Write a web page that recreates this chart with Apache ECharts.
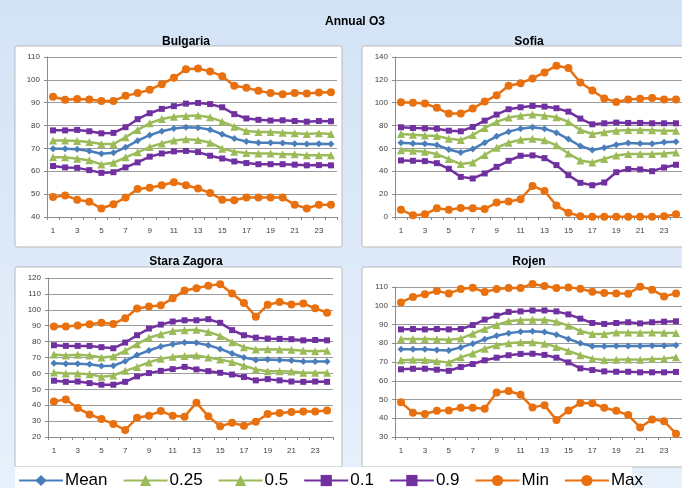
<!DOCTYPE html>
<html>
<head>
<meta charset="utf-8">
<script src="https://cdn.jsdelivr.net/npm/echarts@6/dist/echarts.min.js"></script>
<style>
  html, body { margin: 0; padding: 0; }
  #chart { width: 682px; height: 488px; }
</style>
</head>
<body>
<div id="chart"></div>
<script>
const hours = ['1','2','3','4','5','6','7','8','9','10','11','12','13','14','15','16','17','18','19','20','21','22','23','24'];
const seriesNames = ['Mean', '0.25', '0.5', '0.1', '0.9', 'Min', 'Max'];
const panelNames = ['Bulgaria', 'Sofia', 'Stara Zagora', 'Rojen'];

// Bulgaria
const bgMean = [69.9,69.9,69.6,68.9,67.7,68.1,70.5,73.4,75.8,77.5,78.7,79.3,79.1,78.2,76.2,74.3,73.0,72.5,72.5,72.4,72.1,71.9,72.1,71.9];
const bgQ25  = [66.1,66.1,65.5,64.8,63.0,63.7,66.1,68.3,70.6,72.2,73.5,74.0,73.7,72.5,69.9,68.6,68.0,67.8,67.8,67.5,67.4,67.0,67.0,67.0];
const bgQ50  = [73.5,73.5,73.3,72.8,71.9,71.9,74.9,78.1,81.0,82.9,83.9,84.2,84.4,83.6,81.7,79.5,77.6,77.2,77.2,76.9,76.6,76.3,76.6,76.3];
const bgQ10  = [62.3,61.7,61.5,60.5,59.3,59.6,61.7,63.9,66.4,67.8,68.7,68.9,68.4,66.8,65.6,64.3,63.6,63.1,63.1,63.1,62.9,62.6,62.7,62.6];
const bgQ90  = [77.9,77.9,78.1,77.5,76.6,76.8,79.3,82.8,85.4,87.3,88.5,89.6,89.9,89.4,88.0,85.0,83.1,82.5,82.2,82.3,82.0,81.7,82.0,81.9];
const bgMin  = [48.7,49.4,47.6,46.7,43.7,45.6,48.5,52.2,52.8,53.9,55.2,53.9,52.5,50.5,47.6,47.3,48.5,48.5,48.5,48.5,45.4,43.7,45.4,45.4];
const bgMax  = [92.6,91.3,91.6,91.4,90.8,90.8,93.0,94.2,95.7,98.1,100.9,104.6,105.0,103.7,101.6,97.4,96.5,95.2,94.2,93.7,94.2,94.0,94.5,94.6];

// Sofia
const sfMean = [65.0,64.4,64.1,63.0,59.1,56.5,59.4,65.0,70.6,74.7,77.3,78.5,77.3,73.8,68.2,62.1,58.6,60.6,63.3,64.7,64.4,64.1,65.3,65.9];
const sfQ25  = [58.3,58.0,57.1,55.1,50.7,46.3,47.7,54.2,60.6,65.0,67.6,68.5,67.1,62.7,55.6,49.5,47.7,50.7,53.9,55.1,55.1,55.1,55.6,56.5];
const sfQ50  = [72.6,72.0,71.4,70.9,68.5,67.3,71.7,77.9,83.2,87.0,88.7,89.6,88.7,87.3,83.2,76.1,72.6,74.1,75.5,76.1,76.1,75.8,75.5,75.5];
const sfQ10  = [49.5,49.2,48.9,47.1,42.2,35.1,33.7,38.1,43.9,49.2,53.6,53.9,51.5,45.4,36.6,29.9,27.8,30.2,39.2,41.9,41.6,40.1,43.3,45.7];
const sfQ90  = [78.5,77.9,77.6,77.3,75.5,75.0,78.8,84.3,89.6,94.3,96.0,97.2,96.6,95.2,92.2,86.1,81.1,82.0,82.6,82.3,82.3,82.0,82.0,82.0];
const sfMin  = [6.4,1.5,2.3,7.6,6.4,7.9,7.6,7.0,12.6,13.5,15.5,27.2,22.8,10.0,3.8,0.6,0.3,0.3,0.3,0.3,0.3,0.3,0.6,2.3];
const sfMax  = [100.4,99.9,99.3,95.5,90.5,90.5,94.9,101.0,106.6,114.8,117.1,121.2,126.5,132.4,130.3,117.7,110.7,103.7,100.7,102.8,103.4,104.2,102.8,102.8];

// Stara Zagora
const szMean = [66.4,66.0,66.0,65.8,64.6,64.8,67.7,71.5,74.4,76.9,78.4,79.4,79.2,77.7,75.4,72.5,70.0,68.5,68.7,68.5,68.1,67.5,67.5,67.5];
const szQ25  = [60.6,60.0,60.0,59.5,57.9,58.7,61.6,64.1,66.9,69.2,70.4,71.0,71.3,70.0,68.7,67.1,64.8,62.5,61.4,61.4,61.2,60.4,60.4,60.4];
const szQ50  = [71.9,71.3,71.7,71.3,70.0,70.6,74.2,78.4,82.4,84.7,86.6,87.2,87.4,86.1,83.6,79.6,76.5,75.0,75.2,75.0,74.8,74.2,74.0,74.2];
const szQ10  = [55.4,54.7,54.9,53.9,52.9,52.9,54.7,58.1,60.2,61.6,62.7,64.1,62.5,61.4,60.4,59.3,57.7,55.6,56.4,55.6,54.9,54.7,54.9,54.7];
const szQ90  = [77.7,77.3,77.3,77.3,76.5,75.8,79.4,84.0,88.2,90.7,92.6,93.4,93.4,94.1,91.8,87.2,84.0,82.5,81.9,81.7,81.5,80.8,81.0,80.8];
const szMin  = [42.4,43.6,38.2,34.2,31.3,28.2,24.4,32.1,33.4,36.3,33.4,32.8,41.6,33.0,26.7,29.0,27.1,29.6,34.4,35.1,35.7,36.1,36.1,36.7];
const szMax  = [89.5,89.5,90.1,90.9,91.8,91.1,94.7,100.8,102.0,102.8,107.2,112.1,113.5,115.2,116.0,110.2,104.3,95.7,103.1,104.9,103.3,103.9,101.0,98.2];

// Rojen
const rjMean = [76.8,76.8,76.8,76.4,76.1,77.8,79.8,82.1,84.0,85.3,86.2,86.4,86.0,84.6,82.3,80.0,78.4,78.4,78.5,78.5,78.5,78.7,78.7,78.9];
const rjQ25  = [70.9,71.2,71.1,70.4,69.8,72.5,74.6,77.1,78.9,80.0,80.5,80.5,79.8,78.0,75.9,73.6,71.8,71.1,71.2,71.4,71.2,71.6,71.8,72.5];
const rjQ50  = [82.3,82.3,82.3,82.1,81.9,82.5,85.1,87.6,89.7,91.7,92.4,92.6,92.6,91.5,89.4,86.5,84.9,84.9,85.8,85.8,85.6,85.8,85.6,85.5];
const rjQ10  = [66.1,66.4,66.4,65.9,65.3,67.3,68.9,70.9,72.3,73.6,74.3,74.4,73.8,72.3,69.8,66.6,65.7,65.0,64.8,64.8,64.5,64.5,64.5,64.7];
const rjQ90  = [87.4,87.6,87.4,87.6,87.4,87.6,89.7,92.6,94.7,96.7,97.0,97.5,97.5,97.0,95.4,93.1,90.8,90.3,90.8,91.2,90.6,91.2,91.5,91.7];
const rjMin  = [48.5,43.0,42.3,44.0,44.2,45.6,45.6,45.1,53.8,54.5,52.5,45.8,47.0,39.1,44.2,48.1,48.0,45.6,44.0,41.7,35.1,39.4,38.4,31.8];
const rjMax  = [101.8,104.7,106.1,107.9,106.6,108.9,109.6,107.3,108.9,109.5,109.5,111.6,110.5,109.5,109.8,109.1,107.5,106.8,106.6,106.4,110.2,108.6,105.0,106.6];

const panelData = [
    [bgMean, bgQ25, bgQ50, bgQ10, bgQ90, bgMin, bgMax],
    [sfMean, sfQ25, sfQ50, sfQ10, sfQ90, sfMin, sfMax],
    [szMean, szQ25, szQ50, szQ10, szQ90, szMin, szMax],
    [rjMean, rjQ25, rjQ50, rjQ10, rjQ90, rjMin, rjMax]
];
const yMin = [40, 0, 20, 30];
const yMax = [110, 140, 120, 110];
const yStep = [10, 20, 10, 10];

const styles = [
    {color: '#4A7EBB', symbol: 'diamond', size: 7},
    {color: '#9BBB59', symbol: 'triangle', size: 8},
    {color: '#9BBB59', symbol: 'triangle', size: 8},
    {color: '#7030A0', symbol: 'rect', size: 6},
    {color: '#7030A0', symbol: 'rect', size: 6},
    {color: '#E8700E', symbol: 'circle', size: 8},
    {color: '#E8700E', symbol: 'circle', size: 8}
];

const grids = [
    {left: 47, top: 57, width: 290, height: 160},
    {left: 395, top: 57, width: 290, height: 160},
    {left: 48, top: 278, width: 285, height: 159},
    {left: 395, top: 287, width: 290, height: 150}
];
const boxes = [
    {x: 15, y: 46, w: 327, h: 201},
    {x: 362, y: 46, w: 345, h: 201},
    {x: 15, y: 267, w: 327, h: 200},
    {x: 362, y: 267, w: 345, h: 200}
];
const subTitlePos = [[181, 31], [524, 31], [181, 251], [524, 251]];

const font = '"Liberation Sans", Arial, sans-serif';
const axisGray = '#8c8c8c';

let myChart = echarts.init(document.getElementById('chart'));

let titles = [{
    text: 'Annual O3', left: 350, top: 11, textAlign: 'center',
    textStyle: {fontSize: 12, fontWeight: 'bold', color: '#000', fontFamily: font}
}];
panelNames.forEach(function (name, i) {
    titles.push({
        text: name, left: subTitlePos[i][0], top: subTitlePos[i][1], textAlign: 'center',
        textStyle: {fontSize: 12, fontWeight: 'bold', color: '#000', fontFamily: font}
    });
});

let xAxes = [], yAxes = [], series = [];
for (let i = 0; i < 4; i++) {
    xAxes.push({
        type: 'category',
        gridIndex: i,
        data: hours,
        boundaryGap: true,
        axisLine: {lineStyle: {color: axisGray}},
        axisTick: {show: true, interval: 0, length: 3, lineStyle: {color: axisGray}},
        axisLabel: {interval: 1, fontSize: 8, color: '#404040', margin: 10, fontFamily: font}
    });
    yAxes.push({
        type: 'value',
        gridIndex: i,
        min: yMin[i],
        max: yMax[i],
        interval: yStep[i],
        axisLine: {show: true, lineStyle: {color: axisGray}},
        axisTick: {show: true, length: 3, lineStyle: {color: axisGray}},
        splitLine: {lineStyle: {color: '#9c9c9c', width: 1}},
        axisLabel: {fontSize: 8, color: '#404040', margin: 7, fontFamily: font}
    });
    panelData[i].forEach(function (values, k) {
        series.push({
            name: seriesNames[k],
            type: 'line',
            xAxisIndex: i,
            yAxisIndex: i,
            data: values,
            symbol: styles[k].symbol,
            symbolSize: styles[k].size,
            showAllSymbol: true,
            color: styles[k].color,
            lineStyle: {width: 2.5, color: styles[k].color},
            itemStyle: {color: styles[k].color},
            clip: false
        });
    });
}

let graphics = boxes.map(function (b) {
    return {
        type: 'rect', z: -10,
        shape: {x: b.x, y: b.y, width: b.w, height: b.h, r: 2},
        style: {fill: '#fff', stroke: '#b9b9b9', lineWidth: 1}
    };
});
graphics.push({
    type: 'rect', z: -10,
    shape: {x: 15, y: 467, width: 617, height: 30},
    style: {fill: '#fff'}
});

let option = {
    animation: false,
    backgroundColor: new echarts.graphic.LinearGradient(0, 0, 0, 1, [
        {offset: 0, color: '#D3E3F6'},
        {offset: 1, color: '#E7F0FB'}
    ]),
    title: titles,
    grid: grids,
    xAxis: xAxes,
    yAxis: yAxes,
    graphic: graphics,
    legend: {
        data: seriesNames,
        left: 13,
        top: 467,
        itemWidth: 44,
        itemHeight: 14,
        itemGap: 15,
        textStyle: {fontSize: 17, color: '#000', fontFamily: font, padding: [0, 0, 0, -3]}
    },
    series: series
};
if (option && typeof option === "object") {
    myChart.setOption(option, true);
}
</script>
</body>
</html>
